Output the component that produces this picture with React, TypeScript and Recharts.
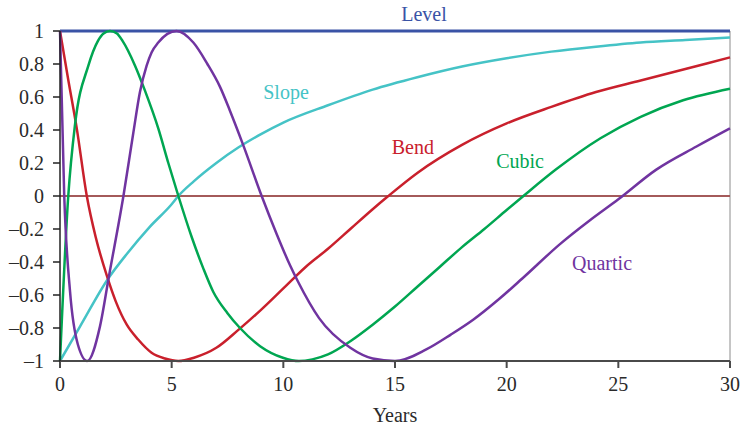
import { LineChart, Line, XAxis, YAxis, ReferenceLine, ReferenceDot } from 'recharts';

// values (years -> factor loading)
const levelYears = [0, 30];
const levelValues = [1, 1];

const slopeYears = [0, 0.9, 2.16, 3, 4, 5, 5.3, 6, 7, 8, 9, 10, 12, 14, 16, 18, 20, 22, 24, 26, 28, 30];
const slopeValues = [-1, -0.79, -0.5, -0.35, -0.19, -0.05, 0, 0.09, 0.2, 0.295, 0.375, 0.445, 0.55, 0.645, 0.72, 0.785, 0.835, 0.875, 0.905, 0.93, 0.945, 0.96];

const bendYears = [0, 0.35, 0.75, 1.2, 1.6, 2.09, 2.5, 2.99, 3.5, 4.1, 4.7, 5.3, 6, 7, 8, 9, 10, 11, 12, 13, 14, 14.7, 16, 18, 20, 22, 24, 26, 28, 30];
const bendValues = [1, 0.72, 0.41, 0, -0.25, -0.48, -0.64, -0.78, -0.87, -0.95, -0.985, -1, -0.98, -0.92, -0.81, -0.69, -0.56, -0.43, -0.32, -0.2, -0.08, 0, 0.14, 0.31, 0.44, 0.54, 0.63, 0.7, 0.77, 0.84];

const cubicYears = [0, 0.37, 0.67, 1.27, 1.7, 1.95, 2.24, 2.55, 2.8, 3.36, 3.8, 4.4, 4.85, 5.3, 5.9, 6.42, 6.86, 7.5, 8.06, 8.96, 9.98, 10.7, 11.3, 12, 13, 14, 15, 16, 17, 18, 19, 20, 20.75, 22.2, 24.2, 26, 27.9, 30];
const cubicValues = [-1, 0, 0.43, 0.79, 0.94, 0.985, 1, 0.985, 0.94, 0.79, 0.64, 0.41, 0.2, 0, -0.25, -0.44, -0.58, -0.71, -0.8, -0.91, -0.98, -1, -0.99, -0.96, -0.88, -0.78, -0.67, -0.55, -0.43, -0.31, -0.2, -0.085, 0, 0.16, 0.35, 0.48, 0.58, 0.65];

const quarticYears = [0, 0.19, 0.45, 0.8, 1.22, 1.79, 2.2, 2.84, 3.28, 3.58, 3.88, 4.1, 4.4, 5.22, 5.97, 6.6, 7.17, 7.6, 8.2, 9.03, 9.7, 10.3, 10.66, 11.6, 13, 14, 15, 16.4, 17.5, 18.5, 19.7, 20.7, 22.4, 23.7, 25, 26.7, 28.5, 30];
const quarticValues = [1, 0, -0.58, -0.9, -1, -0.79, -0.48, 0, 0.38, 0.63, 0.79, 0.87, 0.93, 1, 0.93, 0.8, 0.66, 0.52, 0.31, 0, -0.23, -0.42, -0.52, -0.74, -0.92, -0.985, -1, -0.93, -0.84, -0.75, -0.62, -0.5, -0.29, -0.15, -0.02, 0.16, 0.3, 0.41];

const xTicks = [0, 5, 10, 15, 20, 25, 30];
const yTicks = [-1, -0.8, -0.6, -0.4, -0.2, 0, 0.2, 0.4, 0.6, 0.8, 1];

const toPoints = (years: number[], values: number[]) => years.map((t, i) => ({ t, v: values[i] }));

const series = [
  { name: 'Level', color: '#3a53a6', width: 3, data: toPoints(levelYears, levelValues), label: [16.3, 1.105] },
  { name: 'Slope', color: '#45c3c6', width: 2.5, data: toPoints(slopeYears, slopeValues), label: [10.12, 0.631] },
  { name: 'Bend', color: '#c9202c', width: 2.5, data: toPoints(bendYears, bendValues), label: [15.8, 0.298] },
  { name: 'Cubic', color: '#00a651', width: 2.5, data: toPoints(cubicYears, cubicValues), label: [20.6, 0.213] },
  { name: 'Quartic', color: '#7034a0', width: 2.5, data: toPoints(quarticYears, quarticValues), label: [24.27, -0.405] },
];

const font = '"Liberation Serif", "DejaVu Serif", serif';

const fmt = (v: number) => {
  const s = String(Math.abs(v));
  return v < 0 ? '\u2013' + s : s;
};

export default function App() {
  return (
    <div style={{ width: 741, height: 427 }}>
      <style>{`body{margin:0}`}</style>
      <LineChart
        width={741}
        height={427}
        margin={{ top: 31, right: 11, bottom: 0, left: 0 }}
        style={{ fontFamily: font }}
      >
        <XAxis
          type="number"
          dataKey="t"
          domain={[0, 30]}
          ticks={xTicks}
          height={66}
          tickSize={7}
          tickMargin={9}
          stroke="#4a4a4a"
          strokeWidth={2}
          tick={{ fill: '#2a2a2a', fontSize: 20, fontFamily: font }}
          label={{ value: 'Years', position: 'insideBottom', offset: 5, fill: '#2a2a2a', fontSize: 20, fontFamily: font }}
        />
        <YAxis
          type="number"
          dataKey="v"
          domain={[-1, 1]}
          ticks={yTicks}
          width={60}
          tickSize={7}
          tickMargin={9}
          stroke="#222"
          strokeWidth={1.5}
          tickFormatter={fmt}
          tick={{ fill: '#2a2a2a', fontSize: 20, fontFamily: font }}
        />
        <ReferenceLine x={30} stroke="#8c8c8c" strokeWidth={1} />
        <ReferenceLine y={0} stroke="#a45a5a" strokeWidth={2} />
        {series.map((s) => (
          <Line
            key={s.name}
            data={s.data}
            dataKey="v"
            type="monotone"
            stroke={s.color}
            strokeWidth={s.width}
            dot={false}
            activeDot={false}
            isAnimationActive={false}
          />
        ))}
        {series.map((s) => (
          <ReferenceDot
            key={'lbl-' + s.name}
            x={s.label[0]}
            y={s.label[1]}
            r={0}
            fill="none"
            stroke="none"
            ifOverflow="visible"
            label={{ value: s.name, position: 'center', fill: s.color, fontSize: 20, fontFamily: font }}
          />
        ))}
      </LineChart>
    </div>
  );
}
